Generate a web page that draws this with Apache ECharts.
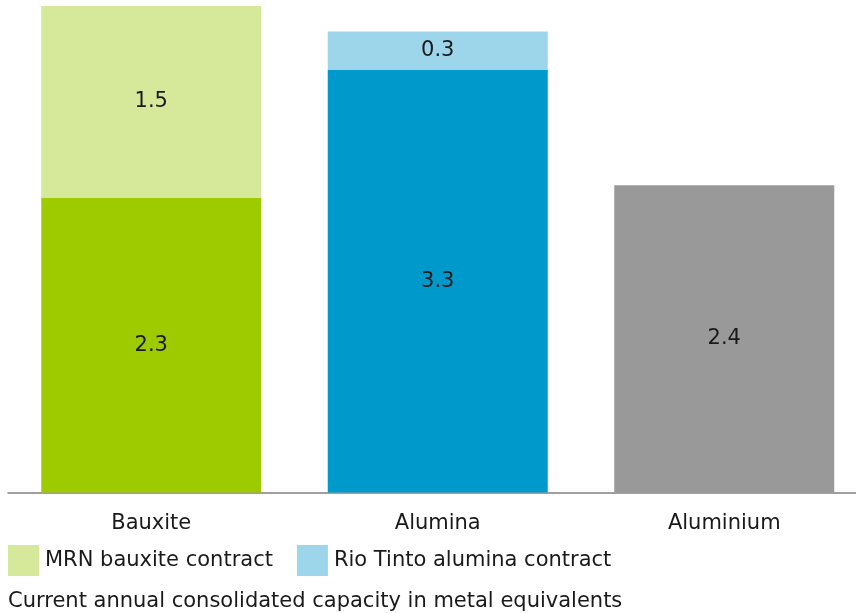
<!DOCTYPE html>
<html>
<head>
<meta charset="utf-8">
<script src="https://cdn.jsdelivr.net/npm/echarts@6/dist/echarts.min.js"></script>
<style>
  html, body { margin: 0; padding: 0; background: #fff; }
  #chart { width: 856px; height: 613px; }
</style>
</head>
<body>
<div id="chart"></div>
<script>
// Capacity by product (Mt, metal equivalents)
const categories = ['Bauxite', 'Alumina', 'Aluminium'];
const consolidated = [2.3, 3.3, 2.4];
const mrnContract = [1.5, '-', '-'];
const rioTintoContract = ['-', 0.3, '-'];
const legendNames = ['MRN bauxite contract', 'Rio Tinto alumina contract'];
const footnote = 'Current annual consolidated capacity in metal equivalents';

const baseColors = ['#9ecb00', '#0099cc', '#999999'];
const FONT = 'DejaVu Sans';
const TEXT = '#1a1a1a';

const chart = echarts.init(document.getElementById('chart'), null, { renderer: 'canvas' });

const labelStyle = {
  show: true,
  position: 'inside',
  fontFamily: FONT,
  fontSize: 21,
  color: TEXT,
  formatter: p => p.value.toFixed(1)
};

chart.setOption({
  animation: false,
  backgroundColor: '#ffffff',
  grid: {
    left: 8, top: 6, right: -11.5, bottom: 120.5,
    containLabel: false,
    outerBoundsMode: 'none'
  },
  legend: {
    data: legendNames,
    left: 8,
    top: 545,
    padding: 0,
    itemWidth: 31,
    itemHeight: 31,
    itemGap: 24,
    icon: 'rect',
    textStyle: { fontFamily: FONT, fontSize: 21, color: TEXT, padding: [0, 0, 0, 1] },
    selectedMode: false
  },
  xAxis: {
    type: 'category',
    data: categories,
    axisLine: { show: true, lineStyle: { color: '#808080', width: 1.5 } },
    axisTick: { show: false },
    axisLabel: { margin: 21, fontFamily: FONT, fontSize: 21, color: TEXT }
  },
  yAxis: {
    type: 'value',
    min: 0,
    max: 3.8,
    show: false,
    splitLine: { show: false }
  },
  series: [
    {
      name: 'Consolidated',
      type: 'bar',
      stack: 'capacity',
      barWidth: 220,
      data: consolidated.map((v, i) => ({ value: v, itemStyle: { color: baseColors[i] } })),
      label: labelStyle
    },
    {
      name: legendNames[0],
      type: 'bar',
      stack: 'capacity',
      barWidth: 220,
      itemStyle: { color: '#d6e99a' },
      data: mrnContract,
      label: labelStyle
    },
    {
      name: legendNames[1],
      type: 'bar',
      stack: 'capacity',
      barWidth: 220,
      itemStyle: { color: '#9dd5ea' },
      data: rioTintoContract,
      label: labelStyle
    }
  ],
  graphic: [
    {
      type: 'text',
      left: 8,
      top: 591,
      style: { text: footnote, fontFamily: FONT, fontSize: 21, fill: TEXT }
    }
  ]
});
</script>
</body>
</html>
